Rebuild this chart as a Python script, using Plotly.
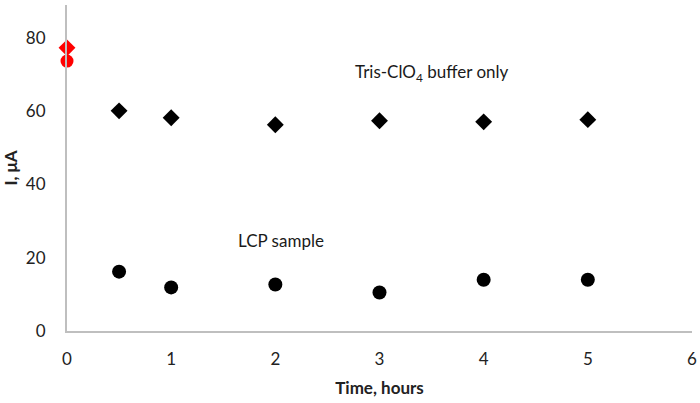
import plotly.graph_objects as go

time_buffer = [0.5, 1, 2, 3, 4, 5]
current_buffer = [60.1, 58.2, 56.3, 57.4, 57.1, 57.7]
time_lcp = [0.5, 1, 2, 3, 4, 5]
current_lcp = [16.2, 11.9, 12.7, 10.5, 14.0, 14.0]
time_initial = [0, 0]
current_initial_diamond = [77.3]
current_initial_circle = [73.7]

FONT = "Lato, Open Sans, sans-serif"

fig = go.Figure()
fig.add_trace(go.Scatter(x=time_buffer, y=current_buffer, mode="markers",
                         marker=dict(symbol="diamond", size=13, color="black"),
                         showlegend=False))
fig.add_trace(go.Scatter(x=time_lcp, y=current_lcp, mode="markers",
                         marker=dict(symbol="circle", size=14, color="black"),
                         showlegend=False))
fig.add_trace(go.Scatter(x=time_initial[:1], y=current_initial_circle, mode="markers",
                         marker=dict(symbol="circle", size=13, color="red"),
                         showlegend=False, cliponaxis=False))
fig.add_trace(go.Scatter(x=time_initial[1:], y=current_initial_diamond, mode="markers",
                         marker=dict(symbol="diamond", size=13, color="red"),
                         showlegend=False, cliponaxis=False))

fig.add_annotation(x=3.5, y=70.5, text="Tris-ClO<sub>4</sub> buffer only", showarrow=False,
                   font=dict(size=17, color="#1a1a1a", family=FONT))
fig.add_annotation(x=2.05, y=24.8, text="LCP sample", showarrow=False,
                   font=dict(size=17, color="#1a1a1a", family=FONT))

fig.update_layout(
    width=700, height=403,
    paper_bgcolor="white", plot_bgcolor="white",
    margin=dict(l=67, r=8, t=5, b=72),
    font=dict(family=FONT, size=17, color="#222222"),
    xaxis=dict(range=[0, 6], tickvals=[0, 1, 2, 3, 4, 5, 6], showgrid=False, zeroline=False,
               showline=True, linecolor="#BFBFBF", linewidth=2, ticks="",
               automargin=False, ticklabelstandoff=12,
               title=dict(text="<b>Time, hours</b>", font=dict(size=17), standoff=14)),
    yaxis=dict(range=[0, 89], tickvals=[0, 20, 40, 60, 80], showgrid=False, zeroline=False,
               showline=True, linecolor="#BFBFBF", linewidth=2, ticks="",
               automargin=False, ticklabelstandoff=16,
               title=dict(text="<b>I, μA</b>", font=dict(size=17), standoff=16)),
)

fig.write_html("out.html", config={"displayModeBar": False},
               post_script="document.body.style.margin='0';document.body.style.overflow='hidden';")
